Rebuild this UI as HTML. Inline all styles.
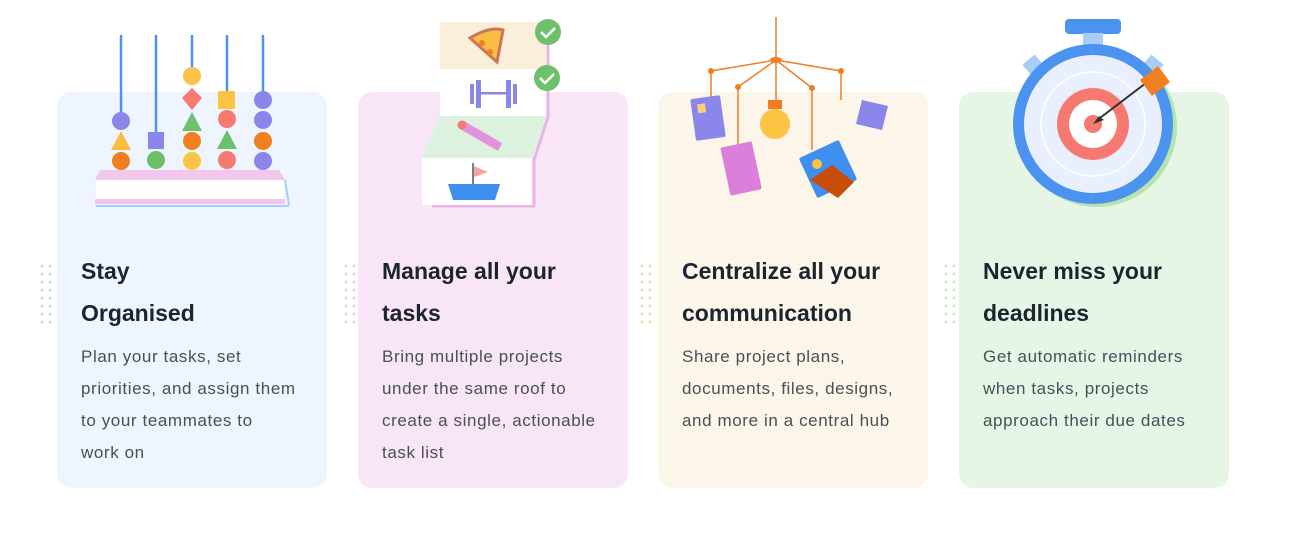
<!DOCTYPE html>
<html><head><meta charset="utf-8"><style>
body{margin:0;width:1297px;height:547px;background:#fff;position:relative;overflow:hidden;font-family:"Liberation Sans",sans-serif}
.card{position:absolute;top:92px;width:270px;height:396px;border-radius:14px}
.t{position:absolute;top:250px;font-weight:bold;font-size:23px;line-height:42px;color:#1c2430;letter-spacing:0px}
.d{position:absolute;top:341px;font-size:17px;line-height:32px;color:#4a4f57;white-space:nowrap;letter-spacing:0.6px}
svg{position:absolute;left:0;top:0}
</style></head><body>
<div class="card" style="left:57px;background:#eff5fe"></div>
<div class="card" style="left:358px;background:#f8e6f7"></div>
<div class="card" style="left:658px;background:#fcf5e9"></div>
<div class="card" style="left:959px;background:#e6f6e6"></div>
<svg width="1297" height="547">
<defs>
<pattern id="pb" width="8" height="8" patternUnits="userSpaceOnUse"><circle cx="2" cy="2" r="1.3" fill="#b7cff5"/></pattern>
<pattern id="pp" width="8" height="8" patternUnits="userSpaceOnUse"><circle cx="2" cy="2" r="1.3" fill="#f2bde9"/></pattern>
<pattern id="po" width="8" height="8" patternUnits="userSpaceOnUse"><circle cx="2" cy="2" r="1.3" fill="#f9d3a4"/></pattern>
<pattern id="pg" width="8" height="8" patternUnits="userSpaceOnUse"><circle cx="2" cy="2" r="1.3" fill="#bfe8c3"/></pattern>
</defs>
<rect x="40" y="264" width="16" height="64" fill="url(#pb)"/>
<rect x="340" y="262" width="16" height="64" fill="url(#pp)"/>
<rect x="640" y="262" width="16" height="64" fill="url(#po)"/>
<rect x="941" y="262" width="16" height="64" fill="url(#pg)"/>
<g>
<polygon points="100,170 279,170 285,180 95,180" fill="#f3c6ec"/>
<rect x="96" y="180" width="188" height="20" fill="#fff"/>
<rect x="95" y="199" width="190" height="5" fill="#f3c6ec"/>
<line x1="96" y1="206" x2="289" y2="206" stroke="#a9cdf5" stroke-width="2"/>
<line x1="285" y1="180" x2="289" y2="205" stroke="#a9cdf5" stroke-width="2"/>
<g stroke="#4b93ef" stroke-width="2.5"><line x1="121" y1="35" x2="121" y2="115"/><line x1="156" y1="35" x2="156" y2="135"/><line x1="192" y1="35" x2="192" y2="70"/><line x1="227" y1="35" x2="227" y2="95"/><line x1="263" y1="35" x2="263" y2="95"/></g>
<circle cx="121" cy="121" r="9" fill="#8a86ea"/><polygon points="121,131 131,150 111,150" fill="#fbbd3d"/><circle cx="121" cy="161" r="9" fill="#f07f1f"/>
<rect x="148" y="132" width="16" height="17" fill="#8a86ea"/><circle cx="156" cy="160" r="9" fill="#6ec06b"/>
<circle cx="192" cy="76" r="9" fill="#fbc444"/><polygon points="192,88 202,98 192,110 182,98" fill="#f77a72"/><polygon points="192,112 202,131 182,131" fill="#6ec06b"/><circle cx="192" cy="141" r="9" fill="#f07f1f"/><circle cx="192" cy="161" r="9" fill="#fbc444"/>
<rect x="218" y="91" width="17" height="18" fill="#fbc444"/><circle cx="227" cy="119" r="9" fill="#f77a72"/><polygon points="227,130 237,149 217,149" fill="#6ec06b"/><circle cx="227" cy="160" r="9" fill="#f77a72"/>
<circle cx="263" cy="100" r="9" fill="#8a86ea"/><circle cx="263" cy="120" r="9" fill="#8a86ea"/><circle cx="263" cy="141" r="9" fill="#f07f1f"/><circle cx="263" cy="161" r="9" fill="#8a86ea"/>
</g>
<g>
<polyline points="548,35 548,117 534,160 534,206 432,206" fill="none" stroke="#e8b4e6" stroke-width="3"/>
<rect x="440" y="22" width="106" height="47" fill="#fbefdc"/>
<path d="M470,38 Q490,26 503,30 L497,62 Z" fill="#fbbe44" stroke="#c6795a" stroke-width="3"/>
<circle cx="482" cy="43" r="3" fill="#f07f1f"/><circle cx="490" cy="52" r="3" fill="#f07f1f"/>
<rect x="440" y="69" width="106" height="47" fill="#fff"/>
<rect x="470" y="84" width="4" height="20" fill="#8a86ea"/><rect x="476" y="80" width="5" height="28" fill="#8a86ea"/><rect x="506" y="80" width="5" height="28" fill="#8a86ea"/><rect x="513" y="84" width="4" height="20" fill="#8a86ea"/><rect x="481" y="92" width="25" height="2.5" fill="#8a86ea"/>
<polygon points="440,116 546,116 532,158 422,158" fill="#dcf2de"/>
<line x1="462" y1="125" x2="500" y2="147" stroke="#e392df" stroke-width="9"/>
<circle cx="462" cy="125" r="4.5" fill="#f77a72"/>
<rect x="422" y="158" width="110" height="47" fill="#fff"/>
<line x1="473" y1="163" x2="473" y2="184" stroke="#555" stroke-width="1.5"/>
<polygon points="474,166 488,172 474,177" fill="#f7a3a0"/>
<polygon points="448,184 500,184 495,200 453,200" fill="#3f8ff0"/>
<circle cx="548" cy="32" r="13" fill="#6ec06b"/><path d="M541,32 l5,5 l9,-9" stroke="#fff" stroke-width="2.5" fill="none"/>
<circle cx="547" cy="78" r="13" fill="#6ec06b"/><path d="M540,78 l5,5 l9,-9" stroke="#fff" stroke-width="2.5" fill="none"/>
</g>
<g stroke="#ed7e26" stroke-width="1.5" fill="none">
<line x1="776" y1="17" x2="776" y2="100"/>
<line x1="776" y1="60" x2="711" y2="71"/><line x1="776" y1="60" x2="841" y2="71"/>
<line x1="776" y1="60" x2="738" y2="87"/><line x1="776" y1="60" x2="812" y2="88"/>
<line x1="711" y1="71" x2="711" y2="98"/><line x1="841" y1="71" x2="841" y2="100"/>
<line x1="738" y1="87" x2="738" y2="145"/><line x1="812" y1="88" x2="812" y2="150"/>
</g>
<g fill="#ed7e26"><circle cx="711" cy="71" r="3"/><circle cx="841" cy="71" r="3"/><circle cx="738" cy="87" r="3"/><circle cx="812" cy="88" r="3"/><ellipse cx="776" cy="60" rx="6" ry="3"/></g>
<rect x="693" y="97" width="30" height="42" rx="2" fill="#8a86ea" transform="rotate(-8 708 118)"/>
<rect x="699" y="103" width="8" height="9" fill="#fbd07a" transform="rotate(-8 708 118)"/>
<rect x="725" y="144" width="32" height="49" rx="2" fill="#dc7fdb" transform="rotate(-12 741 168)"/>
<circle cx="775" cy="124" r="15" fill="#fbc444"/><rect x="768" y="100" width="14" height="9" fill="#ed7e26"/>
<rect x="806" y="147" width="44" height="44" rx="2" fill="#3f8ff0" transform="rotate(-25 828 169)"/>
<polygon points="810,180 832,165 854,182 838,198" fill="#c94d0a"/><circle cx="817" cy="164" r="5" fill="#fbc444"/>
<polygon points="862,100 888,106 882,130 856,124" fill="#8a86ea"/>
<g>
<rect x="1065" y="19" width="56" height="15" rx="4" fill="#4b93ef"/>
<rect x="1083" y="33" width="20" height="12" fill="#a9cdf5"/>
<rect x="1025" y="58" width="16" height="14" fill="#a9cdf5" transform="rotate(-40 1033 65)"/>
<rect x="1145" y="58" width="16" height="14" fill="#a9cdf5" transform="rotate(40 1153 65)"/>
<circle cx="1097" cy="127" r="80" fill="#b6e4b0"/>
<circle cx="1093" cy="124" r="80" fill="#4b93ef"/>
<circle cx="1093" cy="124" r="69" fill="#e9effc"/>
<circle cx="1093" cy="124" r="52" fill="none" stroke="#fff" stroke-width="1.5"/>
<circle cx="1093" cy="124" r="36" fill="#f77a72"/>
<circle cx="1093" cy="124" r="24" fill="#fff"/>
<circle cx="1093" cy="124" r="9" fill="#f77a72"/>
<line x1="1096" y1="121" x2="1150" y2="80" stroke="#333" stroke-width="2"/>
<polygon points="1093,124 1104,120 1099,116" fill="#333"/>
<polygon points="1140,80 1158,66 1170,82 1152,96" fill="#f07f1f"/>
</g>
</svg>
<div class="t" style="left:81px">Stay<br>Organised</div>
<div class="t" style="left:382px">Manage all your<br>tasks</div>
<div class="t" style="left:682px">Centralize all your<br>communication</div>
<div class="t" style="left:983px">Never miss your<br>deadlines</div>
<div class="d" style="left:81px">Plan your tasks, set<br>priorities, and assign them<br>to your teammates to<br>work on</div>
<div class="d" style="left:382px">Bring multiple projects<br>under the same roof to<br>create a single, actionable<br>task list</div>
<div class="d" style="left:682px">Share project plans,<br>documents, files, designs,<br>and more in a central hub</div>
<div class="d" style="left:983px">Get automatic reminders<br>when tasks, projects<br>approach their due dates</div>
</body></html>
